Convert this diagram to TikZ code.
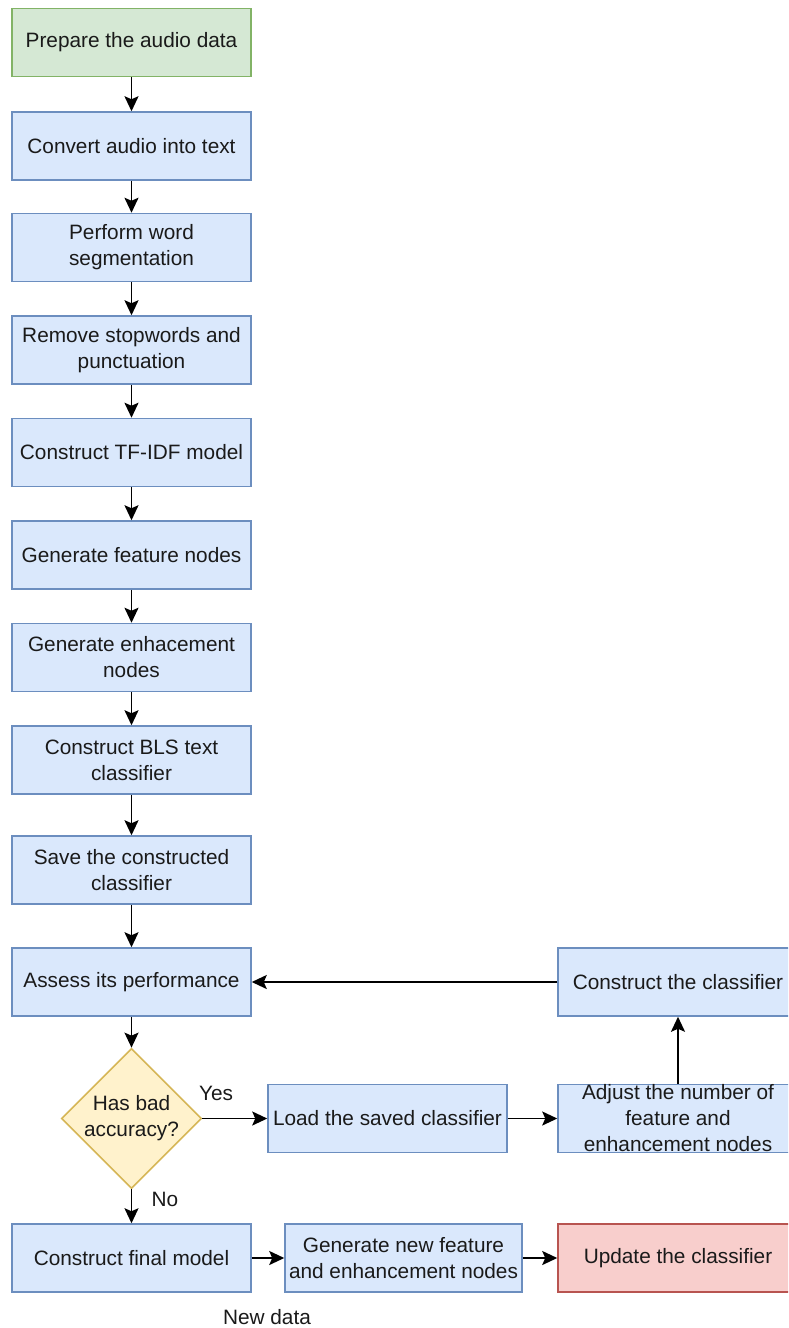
\documentclass[tikz,border=0pt]{standalone}
\usepackage{fontspec}
\setmainfont{Liberation Sans}
\usetikzlibrary{arrows.meta,shapes.geometric}

\definecolor{blueFill}{HTML}{DAE8FC}
\definecolor{blueLine}{HTML}{6C8EBF}
\definecolor{greenFill}{HTML}{D5E8D4}
\definecolor{greenLine}{HTML}{82B366}
\definecolor{yellowFill}{HTML}{FFF2CC}
\definecolor{yellowLine}{HTML}{D6B656}
\definecolor{redFill}{HTML}{F8CECC}
\definecolor{redLine}{HTML}{B85450}
\definecolor{ink}{HTML}{1A1A1A}

\tikzset{
  box/.style={draw=blueLine, fill=blueFill, line width=1.5pt,
    minimum width=239pt, minimum height=68pt, inner sep=0pt,
    align=center, text=ink, font=\fontsize{20.8}{26}\selectfont},
  startbox/.style={box, draw=greenLine, fill=greenFill},
  endbox/.style={box, draw=redLine, fill=redFill},
  decision/.style={diamond, draw=yellowLine, fill=yellowFill, line width=1.5pt,
    minimum width=136pt, minimum height=136pt, aspect=1, inner sep=0pt,
    align=center, text=ink, font=\fontsize{20.8}{26}\selectfont},
  label/.style={text=ink, font=\fontsize{20.8}{26}\selectfont, inner sep=0pt},
  flow/.style={draw=black, line width=1.9pt,
    -{Stealth[length=15pt, width=14pt, inset=3pt]}}
}

\begin{document}
\begin{tikzpicture}[x=1pt, y=-1pt]
  \path[use as bounding box] (0,0) rectangle (788,1328);
  \clip (0,0) rectangle (788,1328);
  \fill[white] (0,0) rectangle (788,1328);

  % main pipeline
  \node[startbox] (prep)   at (131.5,42.5)  {Prepare the audio data};
  \node[box]      (conv)   at (131.5,146)   {Convert audio into text};
  \node[box]      (seg)    at (131.5,247.5) {Perform word\\segmentation};
  \node[box]      (stop)   at (131.5,350)   {Remove stopwords and\\punctuation};
  \node[box]      (tfidf)  at (131.5,452.5) {Construct TF-IDF model};
  \node[box]      (feat)   at (131.5,555)   {Generate feature nodes};
  \node[box]      (enh)    at (131.5,657.5) {Generate enhacement\\nodes};
  \node[box]      (bls)    at (131.5,760)   {Construct BLS text\\classifier};
  \node[box]      (save)   at (131.5,870)   {Save the constructed\\classifier};
  \node[box]      (assess) at (131.5,982)   {Assess its performance};
  \node[decision] (bad)    at (131.5,1118.5) {Has bad\\accuracy?};

  % retraining loop
  \node[box] (load)   at (387.5,1118.5) {Load the saved classifier};
  \node[box, minimum width=240pt] (adjust) at (678,1118.5)
    {Adjust the number of\\feature and\\enhancement nodes};
  \node[box, minimum width=240pt] (cons)   at (678,982) {Construct the classifier};

  % final stage
  \node[box]    (final)  at (131.5,1258) {Construct final model};
  \node[box, minimum width=237pt] (newf) at (403.5,1258)
    {Generate new feature\\and enhancement nodes};
  \node[endbox, minimum width=240pt] (update) at (678,1258) {Update the classifier};

  \node[label] (newdata) at (267,1317) {New data};
  \node[label] (yes) at (216,1093) {Yes};
  \node[label] (no)  at (165,1199) {No};

  % connectors
  \draw[flow] (prep)  -- (conv);
  \draw[flow] (conv)  -- (seg);
  \draw[flow] (seg)   -- (stop);
  \draw[flow] (stop)  -- (tfidf);
  \draw[flow] (tfidf) -- (feat);
  \draw[flow] (feat)  -- (enh);
  \draw[flow] (enh)   -- (bls);
  \draw[flow] (bls)   -- (save);
  \draw[flow] (save)  -- (assess);
  \draw[flow] (assess) -- (bad);
  \draw[flow] (bad.east) -- (load.west);
  \draw[flow] (bad.south) -- (final.north);
  \draw[flow] (load) -- (adjust);
  \draw[flow] (adjust.north) -- (cons.south);
  \draw[flow] (cons.west) -- (assess.east);
  \draw[flow] (final) -- (newf);
  \draw[flow] (newf) -- (update);
\end{tikzpicture}
\end{document}
